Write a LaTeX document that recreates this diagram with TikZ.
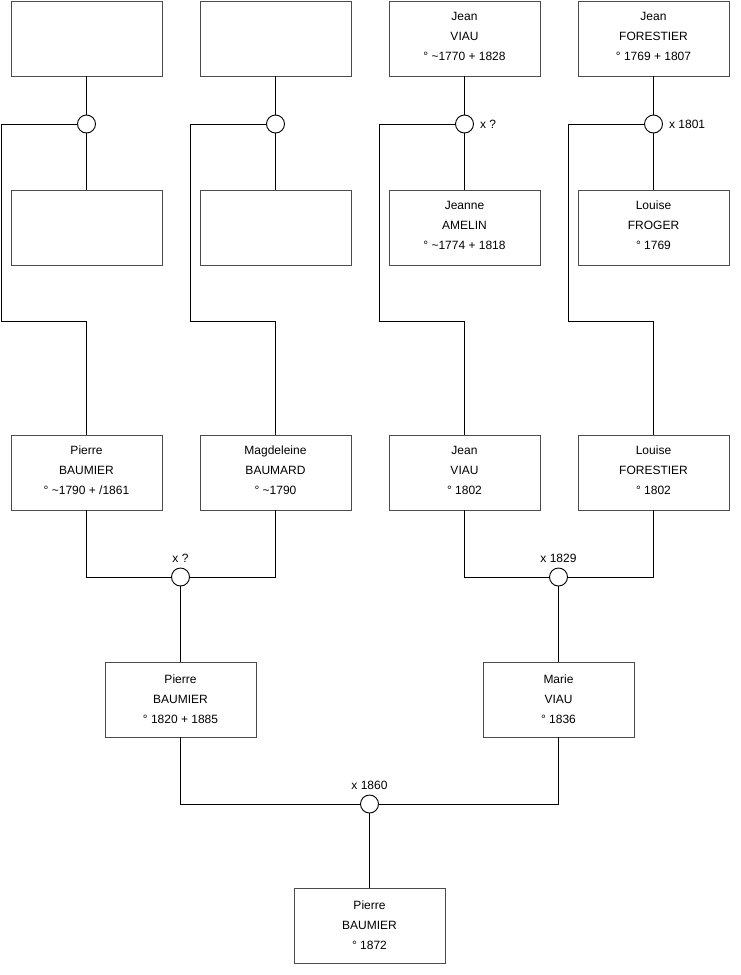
\documentclass[tikz,border=0pt]{standalone}
\usepackage{fontspec}
\setmainfont{Liberation Sans}
\newcommand\pers[4]{%
  \node[person] (#1) at (#2) {};
  \node[ptext] (#1t) at ([yshift=#3]#1.center) {#4};}
\begin{document}
\begin{tikzpicture}[x=1pt,y=-1pt,
  person/.style={draw=black!70, line width=0.9pt, minimum width=151pt, minimum height=75pt, inner sep=0pt},
  ptext/.style={align=center, inner sep=0pt, font=\fontsize{12}{20}\selectfont},
  union/.style={draw=black, line width=0.9pt, circle, minimum size=18pt, inner sep=0pt, fill=white},
  lbl/.style={font=\fontsize{12}{14}\selectfont, inner sep=2pt},
  link/.style={line width=0.9pt, black}]
\useasboundingbox (0,0) rectangle (740,975);
% row 1
\pers{a1}{86.5,38.5}{2pt}{}
\pers{a2}{275.5,38.5}{2pt}{}
\pers{a3}{464.5,38.5}{2pt}{Jean\\VIAU\\° \textasciitilde1770 + 1828}
\pers{a4}{653.5,38.5}{2pt}{Jean\\FORESTIER\\° 1769 + 1807}
% unions row 1
\node[union] (m1) at (86.5,124) {};
\node[union] (m2) at (275.5,124) {};
\node[union] (m3) at (464.5,124) {};
\node[union] (m4) at (653.5,124) {};
\node[lbl, anchor=west] (l3) at ([xshift=4pt]m3.east) {x ?};
\node[lbl, anchor=west] (l4) at ([xshift=4pt]m4.east) {x 1801};
% row 2
\pers{b1}{86.5,227.5}{2pt}{}
\pers{b2}{275.5,227.5}{2pt}{}
\pers{b3}{464.5,227.5}{2pt}{Jeanne\\AMELIN\\° \textasciitilde1774 + 1818}
\pers{b4}{653.5,227.5}{2pt}{Louise\\FROGER\\° 1769}
% row 3
\pers{p1}{86.5,472.5}{2pt}{Pierre\\BAUMIER\\° \textasciitilde1790 + /1861}
\pers{p2}{275.5,472.5}{2pt}{Magdeleine\\BAUMARD\\° \textasciitilde1790}
\pers{p3}{464.5,472.5}{2pt}{Jean\\VIAU\\° 1802}
\pers{p4}{653.5,472.5}{2pt}{Louise\\FORESTIER\\° 1802}
% unions row 3
\node[union] (m5) at (180.5,577) {};
\node[union] (m6) at (558.5,577) {};
\node[lbl, anchor=south] (l5) at ([yshift=3pt]m5.north) {x ?};
\node[lbl, anchor=south] (l6) at ([yshift=3pt]m6.north) {x 1829};
% row 4
\pers{q1}{180.5,699.5}{0pt}{Pierre\\BAUMIER\\° 1820 + 1885}
\pers{q2}{558.5,699.5}{0pt}{Marie\\VIAU\\° 1836}
% union row 4
\node[union] (m7) at (369.5,804) {};
\node[lbl, anchor=south] (l7) at ([yshift=3pt]m7.north) {x 1860};
% row 5
\pers{r}{369.5,925.5}{0pt}{Pierre\\BAUMIER\\° 1872}
% corner coordinates
\coordinate (c1a) at (1.5,124);  \coordinate (c1b) at (1.5,321);
\coordinate (c2a) at (190.5,124); \coordinate (c2b) at (190.5,321);
\coordinate (c3a) at (379.5,124); \coordinate (c3b) at (379.5,321);
\coordinate (c4a) at (568.5,124); \coordinate (c4b) at (568.5,321);
% connectors
\foreach \i in {1,2,3,4}{
  \draw[link] (a\i.south) -- (m\i.north);
  \draw[link] (m\i.south) -- (b\i.north);
  \draw[link] (m\i.west) -- (c\i a) -- (c\i b) -| (p\i.north);
}
\draw[link] (p1.south) |- (m5.west);
\draw[link] (p2.south) |- (m5.east);
\draw[link] (p3.south) |- (m6.west);
\draw[link] (p4.south) |- (m6.east);
\draw[link] (m5.south) -- (q1.north);
\draw[link] (m6.south) -- (q2.north);
\draw[link] (q1.south) |- (m7.west);
\draw[link] (q2.south) |- (m7.east);
\draw[link] (m7.south) -- (r.north);
\end{tikzpicture}
\end{document}
